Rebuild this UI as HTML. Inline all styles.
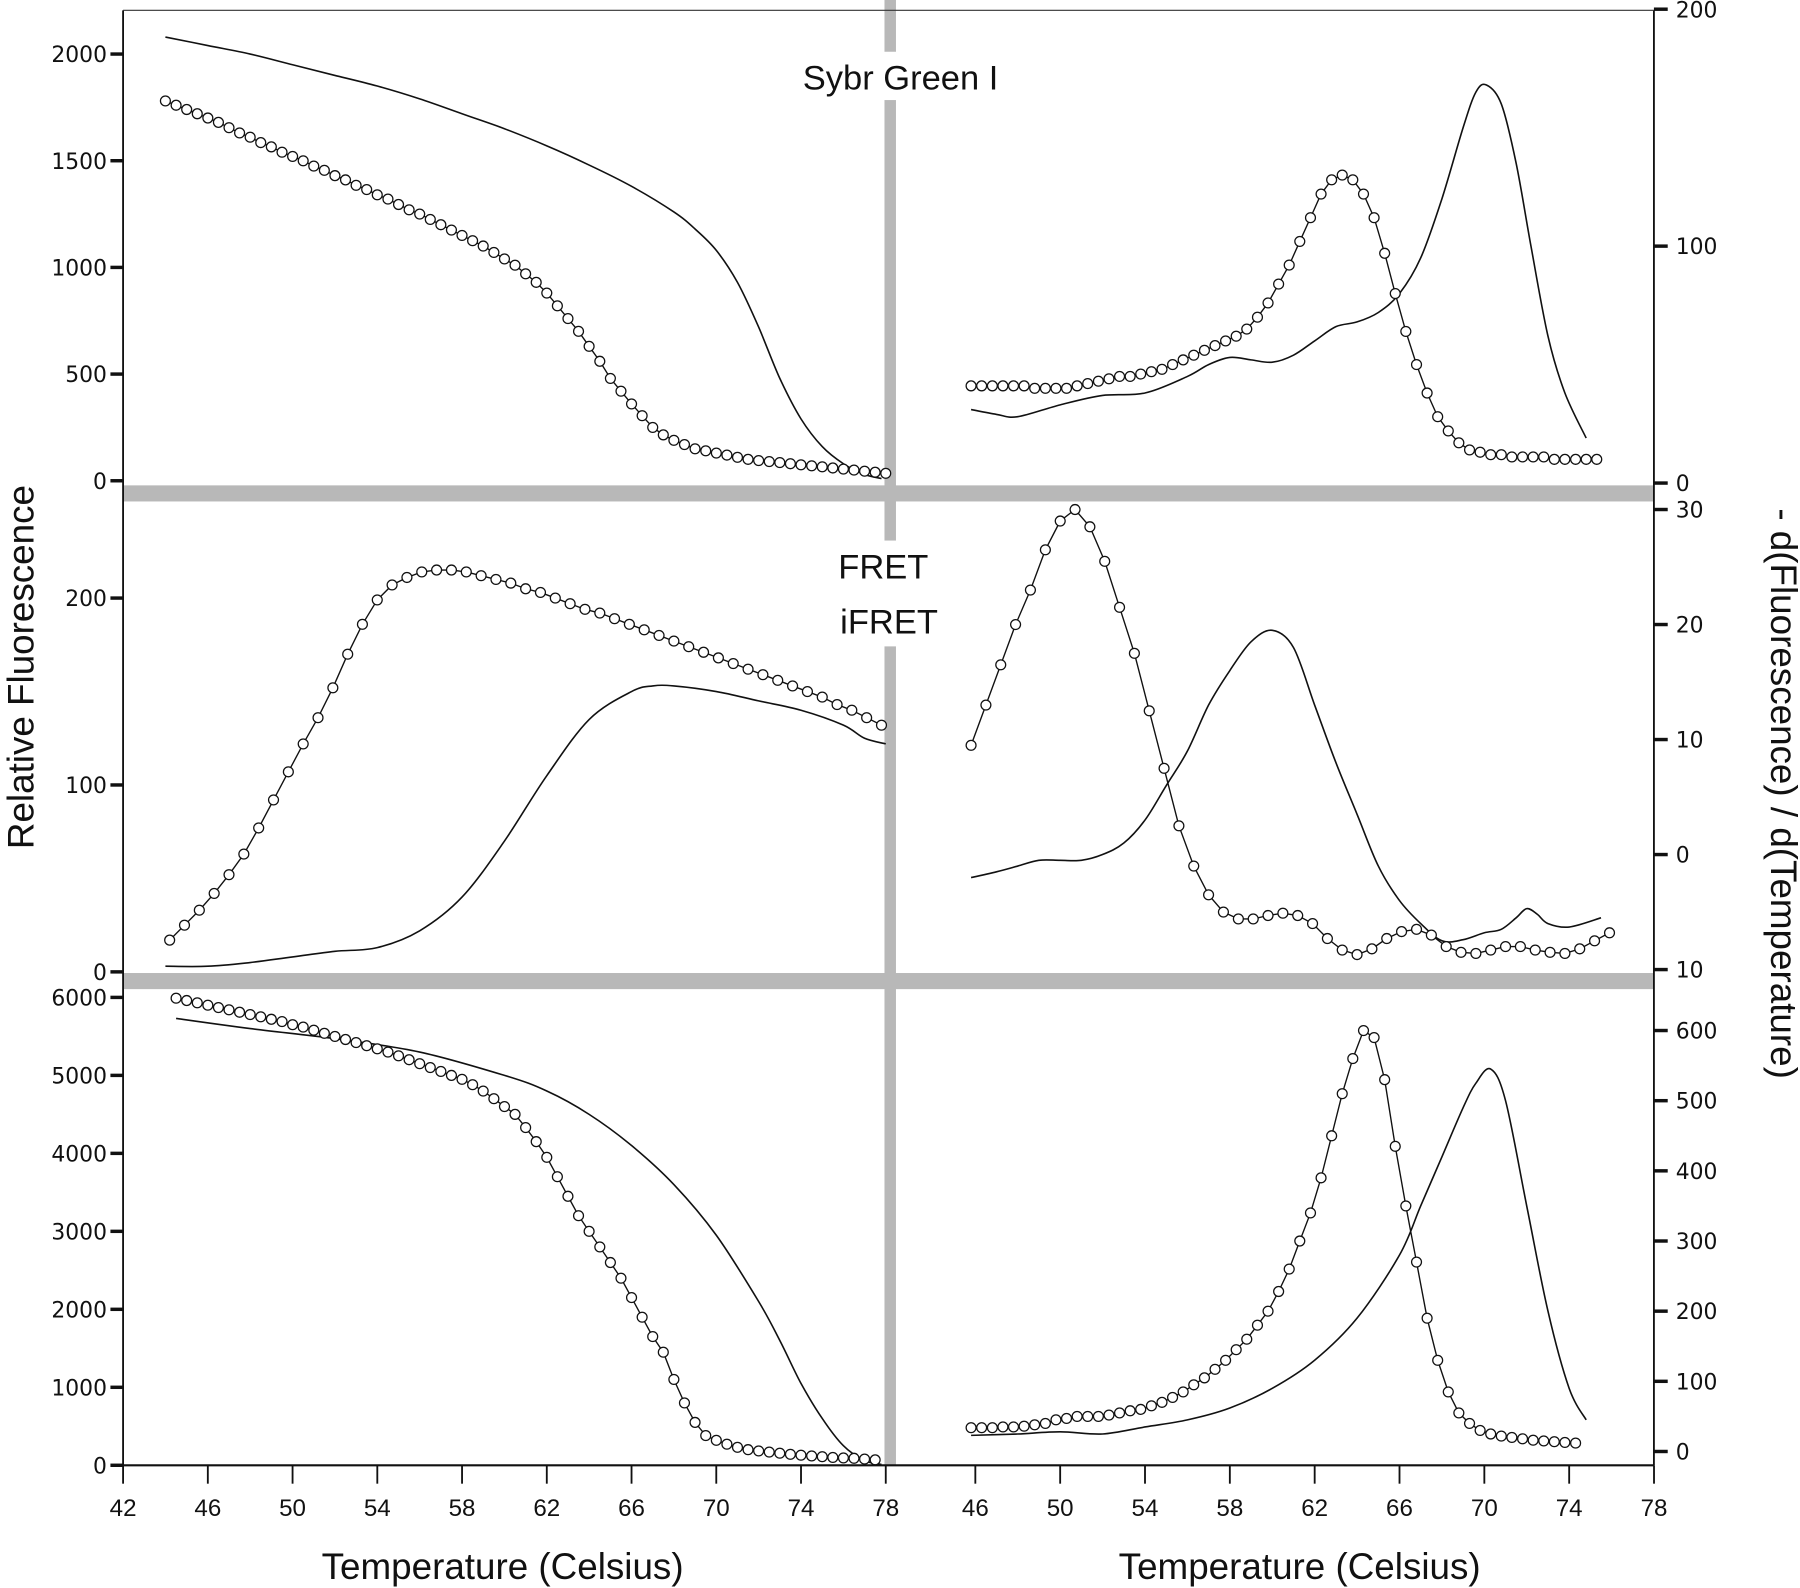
<!DOCTYPE html>
<html><head><meta charset="utf-8"><style>
html,body{margin:0;padding:0;background:#fff;}
svg{display:block;}
text{font-family:"Liberation Sans","DejaVu Sans",sans-serif;fill:#111;}
.tk{font-family:"DejaVu Sans","Liberation Sans",sans-serif;}
</style></head><body>
<svg id="chart" width="1800" height="1588" viewBox="0 0 1565 1380.7" xmlns="http://www.w3.org/2000/svg">
<g id="bands">
  <rect x="769" y="0" width="10" height="1274" fill="#b8b8b8"/>
  <rect x="107" y="422" width="1331" height="14" fill="#b8b8b8"/>
  <rect x="107" y="846" width="1331" height="14" fill="#b8b8b8"/>
</g>
<g id="axes"></g>
<g id="marks"></g>
<g id="labels">
  <rect x="668" y="45" width="230" height="42" fill="#fff"/>
  <text x="783" y="78" font-size="30" text-anchor="middle">Sybr Green I</text>
  <rect x="720" y="470" width="106" height="92" fill="#fff"/>
  <text x="768" y="503" font-size="30" text-anchor="middle">FRET</text>
  <text x="773" y="551" font-size="30" text-anchor="middle">iFRET</text>
  <text x="437" y="1373" font-size="32" text-anchor="middle">Temperature (Celsius)</text>
  <text x="1130" y="1373" font-size="32" text-anchor="middle">Temperature (Celsius)</text>
  <text transform="translate(29,580) rotate(-90)" font-size="32" text-anchor="middle">Relative Fluorescence</text>
  <text transform="translate(1540,690) rotate(90)" font-size="32" text-anchor="middle">- d(Fluorescence) / d(Temperature)</text>
</g>
</svg>
<script>
// ---- data ----
const xTicks = [42,46,50,54,58,62,66,70,74,78];
const xTicksRight = [46,50,54,58,62,66,70,74,78];
const ticksTL = [0,500,1000,1500,2000];
const ticksML = [0,100,200];
const ticksBL = [0,1000,2000,3000,4000,5000,6000];
const ticksTR = [0,100,200];
const ticksMR = [-10,0,10,20,30];
const ticksBR = [0,100,200,300,400,500,600];

// solid lines: temperature & value pairs
const tlLineT = [44,46,48,50,52,54,56,58,60,62,64,66,68,69,70,71,72,73,74,75,76,77,77.8];
const tlLineV = [2080,2040,2000,1950,1900,1850,1790,1720,1650,1570,1480,1380,1260,1180,1080,930,720,480,290,160,80,30,10];
const trLineT = [45.8,47,48,50,52,54,56,57,58,59,60,61,62,63,64,65,66,67,68,69,69.6,70.1,70.8,71.5,72.2,73,73.8,74.8];
const trLineV = [31,29,28,33,37,38,45,50,53,52,51,54,60,66,68,72,80,95,120,150,165,168,160,135,100,62,38,19];
const mlLineT = [44,46,48,50,52,54,56,58,60,62,64,66,67,68,70,72,74,76,77,78];
const mlLineV = [3,3,5,8,11,13,22,40,70,105,135,150,153,153,150,145,140,132,125,122];
const mrLineT = [45.8,47,48,49,50,51,52,53,54,55,56,57,58,59,60,61,62,63,64,65,66,67,68,69,70,70.8,71.5,72,72.5,73,74,75.5];
const mrLineV = [-2,-1.5,-1,-0.5,-0.5,-0.5,0,1,3,6,9,13,16,18.5,19.5,18,13,8,3.5,-1,-4,-6,-7.5,-7.4,-6.8,-6.5,-5.5,-4.7,-5.2,-6,-6.3,-5.5];
const blLineT = [44.5,48,52,56,60,62,64,66,68,70,72,73,74,75,76,77,77.8];
const blLineV = [5730,5600,5470,5300,5000,4800,4500,4100,3600,2950,2100,1600,1050,600,250,60,10];
const brLineT = [45.8,48,50,52,54,56,58,60,62,64,66,67,68,69,69.6,70.3,71,72,73,74,74.8];
const brLineV = [23,25,28,25,35,45,62,90,130,190,280,350,420,490,525,545,500,350,200,90,45];

// circle series: start temperature, step, values
const tlDotStart = 44, tlDotStep = 0.5;
const tlDotV = [1780,1760,1740,1720,1700,1680,1655,1630,1610,1585,1565,1540,1520,1500,1475,1455,1430,1410,1385,1365,1340,1320,1295,1270,1250,1225,1200,1175,1150,1125,1100,1070,1040,1010,970,930,880,820,760,700,630,560,480,420,360,305,250,215,190,170,150,140,130,120,110,100,95,90,85,80,75,70,65,60,55,50,45,40,35];
const trDotStart = 45.8, trDotStep = 0.5;
const trDotV = [41,41,41,41,41,41,40,40,40,40,41,42,43,44,45,45,46,47,48,50,52,54,56,58,60,62,65,70,76,84,92,102,112,122,128,130,128,122,112,97,80,64,50,38,28,22,17,14,13,12,12,11,11,11,11,10,10,10,10,10];
const mlDotStart = 44.2, mlDotStep = 0.7;
const mlDotV = [17,25,33,42,52,63,77,92,107,122,136,152,170,186,199,207,211,214,215,215,214,212,210,208,205,203,200,197,194,192,189,186,183,180,177,174,171,168,165,162,159,156,153,150,147,143,140,136,132];
const mrDotStart = 45.8, mrDotStep = 0.7;
const mrDotV = [9.5,13,16.5,20,23,26.5,29,30,28.5,25.5,21.5,17.5,12.5,7.5,2.5,-1,-3.5,-5,-5.6,-5.6,-5.3,-5.1,-5.3,-6,-7.3,-8.3,-8.7,-8.2,-7.3,-6.7,-6.5,-7,-8,-8.5,-8.6,-8.3,-8,-8,-8.3,-8.5,-8.6,-8.2,-7.5,-6.8];
const blDotStart = 44.5, blDotStep = 0.5;
const blDotV = [5990,5960,5930,5900,5870,5840,5810,5780,5750,5720,5690,5650,5620,5580,5540,5500,5460,5420,5380,5340,5300,5250,5200,5150,5100,5050,5000,4950,4880,4800,4700,4600,4500,4330,4150,3950,3700,3450,3200,3000,2800,2600,2400,2150,1900,1650,1450,1100,800,550,380,320,270,230,200,185,170,155,140,130,120,110,100,95,90,80,70];
const brDotStart = 45.8, brDotStep = 0.5;
const brDotV = [34,34,34,35,35,36,38,40,45,47,50,50,50,52,55,58,60,65,70,77,85,95,105,117,130,145,160,180,200,228,260,300,340,390,450,510,560,600,590,530,435,350,270,190,130,85,55,40,30,25,22,20,18,16,15,14,13,12];

// ---- scales (display coords of viewBox) ----
const xL = t => 107 + (t-42)*18.42;
const xR = t => 848 + (t-46)*18.44;
const yTL = v => 418 - v*0.1855;
const yML = v => 845 - v*1.625;
const yBL = v => 1274 - v*0.0678;
const yTR = v => 420 - v*2.06;
const yMR = v => 743 - v*10.0;
const yBR = v => 1262 - v*0.61;

const NS = 'http://www.w3.org/2000/svg';
const axes = document.getElementById('axes');
const marks = document.getElementById('marks');
function mk(tag, attrs, parent){ const e=document.createElementNS(NS,tag); for(const k in attrs) e.setAttribute(k,attrs[k]); parent.appendChild(e); return e; }

let e;
e = mk('line',{x1:107,y1:9,x2:107,y2:1274,stroke:'#111','stroke-width':1.6},axes);


e = mk('line',{x1:1438,y1:9,x2:1438,y2:1274,stroke:'#111','stroke-width':1.6},axes);


e = mk('line',{x1:107,y1:9,x2:1438,y2:9,stroke:'#333','stroke-width':1},axes);


e = mk('line',{x1:107,y1:1274,x2:1438,y2:1274,stroke:'#111','stroke-width':1.8},axes);



xTicks.forEach(t=>{
  const x=xL(t);
  e=mk('line',{x1:x,y1:1274,x2:x,y2:1290,stroke:'#111','stroke-width':1.6},axes);
  
  
  e=mk('text',{x:x,y:1318,'font-size':21,'text-anchor':'middle'},axes); e.textContent=t;
  
  
});
xTicksRight.forEach(t=>{
  const x=xR(t);
  e=mk('line',{x1:x,y1:1274,x2:x,y2:1290,stroke:'#111','stroke-width':1.6},axes);
  
  
  e=mk('text',{x:x,y:1318,'font-size':21,'text-anchor':'middle'},axes); e.textContent=t;
  
  
});
function leftTicks(arr, sc){ arr.forEach(v=>{ const y=sc(v);
  e=mk('line',{x1:96,y1:y,x2:107,y2:y,stroke:'#111','stroke-width':3},axes);
  
  
  e=mk('text',{x:93,y:y+7,'font-size':19,'text-anchor':'end','class':'tk'},axes); e.textContent=v;
  
  
});}
function rightTicks(arr, sc){ arr.forEach(v=>{ const y=sc(v);
  e=mk('line',{x1:1438,y1:y,x2:1450,y2:y,stroke:'#111','stroke-width':3},axes);
  
  
  e=mk('text',{x:1457,y:y+7,'font-size':19,'text-anchor':'start','class':'tk'},axes); e.textContent=Math.abs(v);
  
  
});}
leftTicks(ticksTL,yTL); leftTicks(ticksML,yML); leftTicks(ticksBL,yBL);
rightTicks(ticksTR,yTR); rightTicks(ticksMR,yMR); rightTicks(ticksBR,yBR);

function smooth(pts){
  let d='M'+pts[0][0].toFixed(1)+','+pts[0][1].toFixed(1);
  for(let i=0;i<pts.length-1;i++){
    const p0=pts[i-1]||pts[i], p1=pts[i], p2=pts[i+1], p3=pts[i+2]||p2;
    const c1=[p1[0]+(p2[0]-p0[0])/6, p1[1]+(p2[1]-p0[1])/6];
    const c2=[p2[0]-(p3[0]-p1[0])/6, p2[1]-(p3[1]-p1[1])/6];
    d+=' C'+c1[0].toFixed(1)+','+c1[1].toFixed(1)+' '+c2[0].toFixed(1)+','+c2[1].toFixed(1)+' '+p2[0].toFixed(1)+','+p2[1].toFixed(1);
  }
  return d;
}
function drawLine(T,V,xs,ys,name){
  const pts=T.map((t,i)=>[xs(t),ys(V[i])]);
  const p=mk('path',{d:smooth(pts),fill:'none',stroke:'#111','stroke-width':1.4},marks);
  
  
}
function drawDots(start,step,V,xs,ys,name){
  const g=mk('g',{},marks);
  
  
  const pts=V.map((v,i)=>[xs(start+i*step),ys(v)]);
  mk('polyline',{points:pts.map(p=>p[0].toFixed(1)+','+p[1].toFixed(1)).join(' '),fill:'none',stroke:'#111','stroke-width':1.2},g);
  pts.forEach(p=>{
    const c=mk('circle',{cx:p[0].toFixed(1),cy:p[1].toFixed(1),r:4.3,fill:'#fff',stroke:'#111','stroke-width':1.1},g);
    
    
  });
}
drawLine(tlLineT,tlLineV,xL,yTL,'sybr-melting-line');
drawLine(trLineT,trLineV,xR,yTR,'sybr-derivative-line');
drawLine(mlLineT,mlLineV,xL,yML,'fret-melting-line');
drawLine(mrLineT,mrLineV,xR,yMR,'fret-derivative-line');
drawLine(blLineT,blLineV,xL,yBL,'ifret-melting-line');
drawLine(brLineT,brLineV,xR,yBR,'ifret-derivative-line');
drawDots(tlDotStart,tlDotStep,tlDotV,xL,yTL,'sybr-melting-circles');
drawDots(trDotStart,trDotStep,trDotV,xR,yTR,'sybr-derivative-circles');
drawDots(mlDotStart,mlDotStep,mlDotV,xL,yML,'fret-melting-circles');
drawDots(mrDotStart,mrDotStep,mrDotV,xR,yMR,'fret-derivative-circles');
drawDots(blDotStart,blDotStep,blDotV,xL,yBL,'ifret-melting-circles');
drawDots(brDotStart,brDotStep,brDotV,xR,yBR,'ifret-derivative-circles');
document.getElementById('chart').appendChild(document.getElementById('labels'));
</script>
</body></html>
